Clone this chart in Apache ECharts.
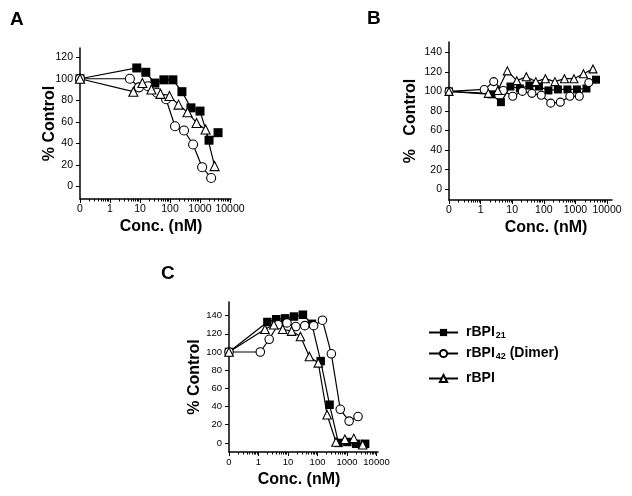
<!DOCTYPE html>
<html>
<head>
<meta charset="utf-8">
<script src="https://cdn.jsdelivr.net/npm/echarts@6/dist/echarts.min.js"></script>
<style>
  html, body { margin: 0; padding: 0; background: #fff; }
  #chart { width: 632px; height: 496px; }
</style>
</head>
<body>
<div id="chart"></div>
<script>
// axis ticks (0.1 on the log axis is the "0" control position)
const X_ZERO = 0.1;
const xMajorTicks = [0.1, 1, 10, 100, 1000, 10000];
const xMinorTicks = [];
[0.1, 1, 10, 100, 1000].forEach(d => { for (let k = 2; k <= 9; k++) xMinorTicks.push(k * d); });
const yTicksA = [0, 20, 40, 60, 80, 100, 120];
const yTicksBC = [0, 20, 40, 60, 80, 100, 120, 140];

const names = ['rBPI21', 'rBPI42 (Dimer)', 'rBPI'];

// panel A
const concA_21 = [0, 7.8, 15.6, 31.3, 62.5, 125, 250, 500, 1000, 2000, 4000];
const valA_21 = [100, 110, 106, 96, 99, 99, 88, 73, 70, 43, 50];
const concA_42 = [0, 4.6, 9.2, 18.4, 37, 74, 147, 294, 589, 1178, 2355];
const valA_42 = [100, 100, 92, 93, 87, 81, 56, 52, 39, 18, 8];
const concA_bpi = [0, 6, 12, 24, 48, 96, 192, 384, 768, 1536, 3072];
const valA_bpi = [100, 88, 96, 90, 86, 84, 76, 69, 59, 53, 19];

// panel B
const concB_21 = [0, 2.2, 4.4, 8.8, 17.5, 35, 70, 140, 280, 560, 1120, 2240, 4480];
const valB_21 = [100, 97, 89, 105, 103, 106, 105, 101, 102, 102, 102, 103, 112];
const concB_42 = [0, 1.3, 2.6, 5.2, 10.4, 21, 42, 83, 166, 333, 666, 1330, 2660];
const valB_42 = [100, 102, 110, 101, 95, 100, 98, 96, 88, 89, 95, 95, 109];
const concB_bpi = [0, 1.75, 3.5, 7, 14, 28, 56, 112, 225, 450, 900, 1800, 3600];
const valB_bpi = [100, 98, 101, 121, 111, 115, 110, 113, 110, 113, 113, 118, 123];

// panel C
const concC_21 = [0, 2, 4, 8, 16, 32, 64, 128, 256, 512, 1024, 2048, 4096];
const valC_21 = [100, 133, 136, 137, 139, 141, 131, 90, 42, 0, 1, -1, -1];
const concC_42 = [0, 1.15, 2.3, 4.6, 9.2, 18.4, 37, 74, 147, 294, 589, 1178, 2355];
const valC_42 = [100, 100, 114, 130, 132, 128, 129, 129, 135, 98, 37, 24, 29];
const concC_bpi = [0, 1.65, 3.3, 6.6, 13.2, 26.4, 53, 106, 211, 422, 845, 1690, 3380];
const valC_bpi = [100, 125, 130, 125, 123, 117, 95, 88, 31, 1, 4, 5, -2];

const panels = [
  {
    grid: { left: 80, top: 48, width: 151, height: 151 },
    xMax: 10800, yMin: -11.5, yMax: 128.5, yTicks: yTicksA,
    yName: '% Control', yGap: 22, xPad: [0, 0, 0, 11], xGap: 20,
    tickFont: { fontSize: 10.5, fontFamily: 'Arial, Liberation Sans' },
    sets: [[concA_21, valA_21], [concA_42, valA_42], [concA_bpi, valA_bpi]], size: 9
  },
  {
    grid: { left: 449, top: 42, width: 163, height: 158 },
    xMax: 14400, yMin: -11, yMax: 150.5, yTicks: yTicksBC,
    yName: '%   Control', yGap: 30, xPad: [0, 0, 0, 31], xGap: 20,
    tickFont: { fontSize: 10.5, fontFamily: 'Arial, Liberation Sans' },
    sets: [[concB_21, valB_21], [concB_42, valB_42], [concB_bpi, valB_bpi]], size: 8
  },
  {
    grid: { left: 229, top: 302, width: 149, height: 150 },
    xMax: 11200, yMin: -10, yMax: 155, yTicks: yTicksBC,
    yName: '% Control', yGap: 26, xPad: [0, 9, 0, 0], xGap: 20,
    tickFont: { fontSize: 9.5, fontFamily: 'Liberation Sans Narrow, Arial Narrow, Arial' },
    sets: [[concC_21, valC_21], [concC_42, valC_42], [concC_bpi, valC_bpi]], size: 8.5
  }
];

const markStyles = [
  { symbol: 'rect', itemStyle: { color: '#000' } },
  { symbol: 'circle', itemStyle: { color: '#fff', borderColor: '#000', borderWidth: 1.1 } },
  { symbol: 'triangle', itemStyle: { color: '#fff', borderColor: '#000', borderWidth: 1.1 } }
];

const grids = [], xAxes = [], yAxes = [], series = [];
panels.forEach((p, i) => {
  const main = grids.length;
  grids.push(Object.assign({ outerBoundsMode: 'none', containLabel: false }, p.grid));
  xAxes.push({
    gridIndex: main, type: 'log', logBase: 10, min: X_ZERO, max: p.xMax,
    name: 'Conc. (nM)', nameLocation: 'middle', nameGap: p.xGap, nameMoveOverlap: false,
    nameTextStyle: { fontSize: 16, fontWeight: 'bold', fontFamily: 'Arial', color: '#000', padding: p.xPad },
    axisLine: { onZero: false, lineStyle: { color: '#000', width: 1.5 } },
    axisTick: { customValues: xMajorTicks, length: 4, lineStyle: { color: '#000', width: 1 } },
    axisLabel: Object.assign({
      customValues: xMajorTicks, margin: 5, color: '#000',
      formatter: v => (v < 0.5 ? '0' : String(Math.round(v)))
    }, p.tickFont),
    splitLine: { show: false }
  });
  yAxes.push({
    gridIndex: main, type: 'value', min: p.yMin, max: p.yMax,
    name: p.yName, nameLocation: 'middle', nameGap: p.yGap, nameMoveOverlap: false,
    nameTextStyle: { fontSize: 16, fontWeight: 'bold', fontFamily: 'Arial', color: '#000' },
    axisLine: { show: true, onZero: false, lineStyle: { color: '#000', width: 1.5 } },
    axisTick: { show: true, customValues: p.yTicks, length: 4, lineStyle: { color: '#000', width: 1 } },
    axisLabel: Object.assign({ customValues: p.yTicks, margin: 7, color: '#000' }, p.tickFont),
    splitLine: { show: false }
  });
  // second grid on the same rect, only for the small log ticks
  const minor = grids.length;
  grids.push(Object.assign({ outerBoundsMode: 'none', containLabel: false }, p.grid));
  xAxes.push({
    gridIndex: minor, type: 'log', logBase: 10, min: X_ZERO, max: p.xMax,
    axisLine: { show: false, onZero: false },
    axisTick: { customValues: xMinorTicks, length: 2.5, lineStyle: { color: '#000', width: 1 } },
    axisLabel: { show: false }, splitLine: { show: false }
  });
  yAxes.push({ gridIndex: minor, type: 'value', min: p.yMin, max: p.yMax, show: false });

  p.sets.forEach(([conc, vals], k) => {
    series.push({
      name: names[k], type: 'line', xAxisIndex: main, yAxisIndex: main,
      data: conc.map((c, j) => [c === 0 ? X_ZERO : c, vals[j]]),
      symbol: markStyles[k].symbol, symbolSize: p.size, showAllSymbol: true,
      itemStyle: markStyles[k].itemStyle,
      lineStyle: { color: '#000', width: 1.2 },
      emphasis: { disabled: true }, silent: true, clip: false
    });
  });
});

const legendText = {
  'rBPI21': '{b|rBPI}{s|21}',
  'rBPI42 (Dimer)': '{b|rBPI}{s|42}{b| (Dimer)}',
  'rBPI': '{b|rBPI}'
};
const legendTops = [325.5, 346.5, 371.5];
const legends = names.map((n, i) => ({
  data: [n], left: 428, top: legendTops[i], orient: 'vertical', padding: 0,
  itemWidth: 29, itemHeight: 9, selectedMode: false,
  formatter: name => legendText[name],
  textStyle: {
    color: '#000', padding: [0, 0, 0, 3],
    rich: {
      b: { fontSize: 14, fontWeight: 'bold', fontFamily: 'Arial', color: '#000' },
      s: { fontSize: 9, fontWeight: 'bold', fontFamily: 'Arial', color: '#000', padding: [6, 0, 0, 1] }
    }
  }
}));

const panelLetter = (t, left, top) => ({
  type: 'text', left, top,
  style: { text: t, font: 'bold 19px Arial', fill: '#000' }
});

const chart = echarts.init(document.getElementById('chart'), null, { renderer: 'canvas' });
chart.setOption({
  animation: false,
  backgroundColor: '#fff',
  grid: grids, xAxis: xAxes, yAxis: yAxes, series,
  legend: legends,
  graphic: [panelLetter('A', 10, 10), panelLetter('B', 367, 9), panelLetter('C', 161, 264)]
});
</script>
</body>
</html>
